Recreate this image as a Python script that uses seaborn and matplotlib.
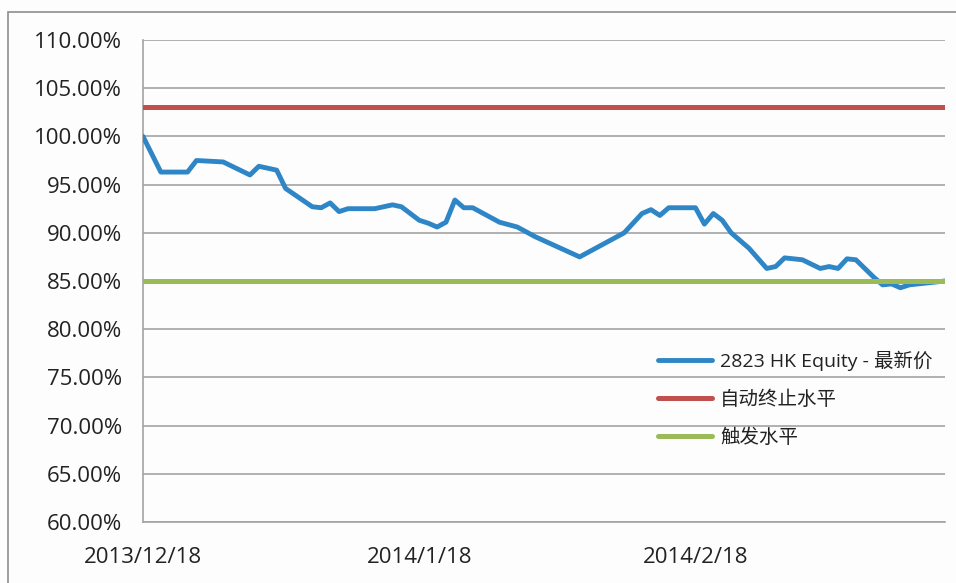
import pandas as pd
import matplotlib
matplotlib.use("Agg")
import matplotlib.pyplot as plt
from matplotlib.patches import Rectangle
import seaborn as sns

# -----------------------
# Data
# -----------------------
dates = [
    "2013-12-18", "2013-12-20", "2013-12-23", "2013-12-24", "2013-12-27",
    "2013-12-30", "2013-12-31", "2014-01-02", "2014-01-03", "2014-01-06",
    "2014-01-07", "2014-01-08", "2014-01-09", "2014-01-10", "2014-01-13",
    "2014-01-15", "2014-01-16", "2014-01-18", "2014-01-19", "2014-01-20",
    "2014-01-21", "2014-01-22", "2014-01-23", "2014-01-24", "2014-01-27",
    "2014-01-29", "2014-01-31", "2014-02-05", "2014-02-08", "2014-02-10",
    "2014-02-12", "2014-02-13", "2014-02-14", "2014-02-15", "2014-02-18",
    "2014-02-19", "2014-02-20", "2014-02-21", "2014-02-22", "2014-02-24",
    "2014-02-26", "2014-02-27", "2014-02-28", "2014-03-02", "2014-03-04",
    "2014-03-05", "2014-03-06", "2014-03-07", "2014-03-08", "2014-03-10",
    "2014-03-11", "2014-03-12", "2014-03-13", "2014-03-14", "2014-03-18",
]
equity_pct = [
    100.0, 96.3, 96.3, 97.5, 97.35,
    96.0, 96.9, 96.5, 94.6, 92.7,
    92.6, 93.1, 92.2, 92.5, 92.5,
    92.9, 92.7, 91.3, 91.0, 90.6,
    91.1, 93.4, 92.6, 92.6, 91.1,
    90.6, 89.6, 87.5, 89.0, 90.0,
    92.0, 92.4, 91.8, 92.6, 92.6,
    90.9, 92.0, 91.3, 90.0, 88.4,
    86.3, 86.5, 87.4, 87.2, 86.3,
    86.5, 86.3, 87.3, 87.2, 85.4,
    84.6, 84.7, 84.3, 84.6, 85.0,
]
autocall_level = 103.0
trigger_level = 85.0

series_names = ["2823 HK Equity - 最新价", "自动终止水平", "触发水平"]
series_colors = ["#2E86C6", "#C0504D", "#9BBB59"]

tick_dates = ["2013-12-18", "2014-01-18", "2014-02-18", "2014-03-18"]
tick_labels = ["2013/12/18", "2014/1/18", "2014/2/18", ""]
y_ticks = [60, 65, 70, 75, 80, 85, 90, 95, 100, 105, 110]

df = pd.DataFrame({"date": pd.to_datetime(dates), "equity": equity_pct})
df["autocall"] = autocall_level
df["trigger"] = trigger_level

# -----------------------
# Style
# -----------------------
sns.set_style("white")
plt.rcParams["font.family"] = ["Open Sans", "Noto Sans CJK SC", "DejaVu Sans"]
grid_gray = "#A3A3A3"
text_color = "#222222"

fig = plt.figure(figsize=(9.56, 5.83), dpi=100)
fig.patch.set_facecolor("#FDFDFD")
ax = fig.add_axes([143 / 956, 1 - 522 / 583, (945 - 143) / 956, (522 - 40) / 583])
ax.set_facecolor("#FDFDFD")

# outer chart-area frame (Excel style), partly cut off by the image edge
fig.patches.append(Rectangle((8 / 956, -0.2), 1.2, (583 - 12) / 583 + 0.2,
                             transform=fig.transFigure, fill=False,
                             edgecolor="#8E8E8E", linewidth=1.2, zorder=0))

# -----------------------
# Lines
# -----------------------
sns.lineplot(data=df, x="date", y="equity", ax=ax, color=series_colors[0],
             linewidth=3.5, label=series_names[0], zorder=3)
sns.lineplot(data=df, x="date", y="autocall", ax=ax, color=series_colors[1],
             linewidth=3.6, label=series_names[1], zorder=3)
sns.lineplot(data=df, x="date", y="trigger", ax=ax, color=series_colors[2],
             linewidth=3.6, label=series_names[2], zorder=4)

# -----------------------
# Axes
# -----------------------
ax.set_xlim(pd.Timestamp(tick_dates[0]), pd.Timestamp(tick_dates[-1]))
ax.set_ylim(y_ticks[0], y_ticks[-1])
ax.set_yticks(y_ticks)
ax.yaxis.set_major_formatter(plt.FuncFormatter(lambda v, p: f"{v:.2f}%"))
ax.set_xticks(pd.to_datetime(tick_dates))
ax.set_xticklabels(tick_labels)
ax.set_xlabel("")
ax.set_ylabel("")

ax.grid(axis="y", color=grid_gray, linewidth=1.2)
ax.grid(axis="x", visible=False)
ax.set_axisbelow(True)
for side in ["top", "right"]:
    ax.spines[side].set_visible(False)
for side in ["left", "bottom"]:
    ax.spines[side].set_color(grid_gray)
    ax.spines[side].set_linewidth(1.2)
ax.tick_params(axis="both", direction="out", length=7, width=1.2, color=grid_gray,
               labelsize=16, labelcolor=text_color)
ax.tick_params(axis="y", pad=8)
ax.tick_params(axis="x", pad=11)

leg = ax.legend(loc="center left", bbox_to_anchor=(658 / 956, 1 - 399 / 583),
                bbox_transform=fig.transFigure, frameon=False, fontsize=14,
                handlelength=2.8, handletextpad=0.4, labelspacing=1.0,
                borderpad=0, borderaxespad=0)
for t in leg.get_texts():
    t.set_color(text_color)

fig.savefig("out.png", dpi=100, facecolor=fig.get_facecolor())
